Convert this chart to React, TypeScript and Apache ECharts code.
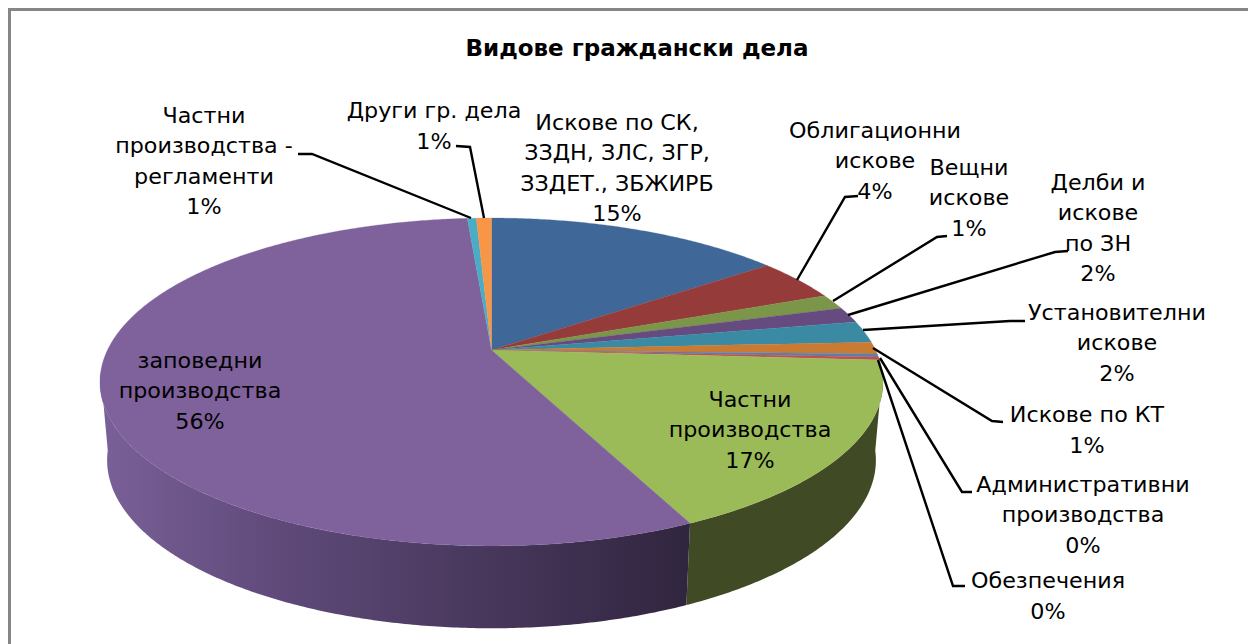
import React, { useEffect, useRef } from "react";
import * as echarts from "echarts";

const titleText = "Видове граждански дела";
const categories = [
  "Искове по СК,\nЗЗДН, ЗЛС, ЗГР,\nЗЗДЕТ., ЗБЖИРБ",
  "Облигационни\nискове",
  "Вещни\nискове",
  "Делби и\nискове\nпо ЗН",
  "Установителни\nискове",
  "Искове по КТ",
  "Административни\nпроизводства",
  "Обезпечения",
  "Частни\nпроизводства",
  "заповедни\nпроизводства",
  "Частни\nпроизводства -\nрегламенти",
  "Други гр. дела",
];
const percentLabels = ["15%", "4%", "1%", "2%", "2%", "1%", "0%", "0%", "17%", "56%", "1%", "1%"];
const values = [14.8, 4.2, 1.5, 1.55, 2.15, 1.2, 0.3, 0.3, 17, 55.8, 0.45, 0.75];
const topColors = ["#3f6797", "#953c3a", "#7b9549", "#664b80", "#3a8aa3", "#c97a33", "#5a7fb0", "#c0504d", "#9bbb59", "#7f619c", "#4bacc6", "#f79646"];
const wallColors = ["#26405e", "#5c2523", "#4c5c2d", "#3f2f50", "#245565", "#7c4b20", "#38506e", "#772f30", "#404a24", "#4a3a60", "#2e6a7a", "#985c2b"];

const labelAnchors = [
  [617, 168], [875, 161], [969, 198], [1098, 228], [1117, 343], [1087, 430], [1083, 515], [1048, 596], [750, 430], [200, 391], [204, 161], [434, 126],
];
const leaders = [
  null,
  [[858, 196], [845, 197], [797, 280]],
  [[947, 236], [937, 237], [833, 301]],
  [[1068, 251], [1055, 252], [848, 315]],
  [[1025, 321], [1010, 321], [863, 330]],
  [[1003, 422], [992, 421], [873, 348]],
  [[972, 492], [962, 492], [880, 358]],
  [[965, 586], [953, 586], [878, 360]],
  null,
  null,
  [[298, 154], [312, 154], [471, 218]],
  [[456, 146], [470, 147], [484, 218]],
];

// Perspective projection of the pie's top and bottom faces
const K = 0.195;
const TOP = { cx: 491.5, cy: 350, a: 384, b: 157.7 };
const BOTTOM = { cx: 491.5, cy: 427.5, a: 377, b: 161.6 };
const WALL_FROM = 98;
const WALL_TO = 262;

function project(face: typeof TOP, deg: number) {
  const t = (deg * Math.PI) / 180;
  const u = Math.sin(t);
  const v = -Math.cos(t);
  const d = 1 - K * v;
  return [face.cx + (face.a * u) / d, face.cy + (face.b * v) / d];
}
function arc(face: typeof TOP, from: number, to: number) {
  const n = Math.max(2, Math.ceil(Math.abs(to - from) * 2));
  const pts: number[][] = [];
  for (let i = 0; i <= n; i++) pts.push(project(face, from + ((to - from) * i) / n));
  return pts;
}

const total = values.reduce((a, b) => a + b, 0);
const starts = values.map((_, i) => (values.slice(0, i).reduce((a, b) => a + b, 0) / total) * 360);

export default function App() {
  const ref = useRef<HTMLDivElement>(null);
  useEffect(() => {
    const chart = echarts.init(ref.current!, null, { renderer: "svg" });
    const seriesData = values.map((v, i) => ({ name: categories[i], value: v }));
    const purpleWall = {
      type: "linear", x: 100, y: 0, x2: 690, y2: 0, global: true,
      colorStops: [
        { offset: 0, color: "#7a6098" },
        { offset: 0.3, color: "#5f4a7a" },
        { offset: 0.7, color: "#453558" },
        { offset: 1, color: "#30253f" },
      ],
    };
    const graphics: any[] = [
      { type: "polyline", z: 100, silent: true, shape: { points: [[9.5, 644], [9.5, 9.5], [1248, 9.5]] }, style: { stroke: "#868686", lineWidth: 3, fill: "none" } },
    ];
    leaders.forEach((pts) => {
      if (pts) graphics.push({ type: "polyline", z: 100, silent: true, shape: { points: pts }, style: { stroke: "#000", lineWidth: 2.4, fill: "none" } });
    });
    categories.forEach((c, i) => {
      graphics.push({
        type: "text", z: 101, silent: true, x: labelAnchors[i][0], y: labelAnchors[i][1], scaleX: 1.06,
        style: {
          text: c + "\n" + percentLabels[i],
          fill: "#000", font: '21px "DejaVu Sans"', lineHeight: 30.5,
          textAlign: "center", textVerticalAlign: "middle",
        },
      });
    });
    chart.setOption({
      animation: false,
      backgroundColor: "#fff",
      title: {
        text: titleText, left: 632, top: 31, textAlign: "center",
        textStyle: { fontFamily: "DejaVu Sans", fontWeight: "bold", fontSize: 23, color: "#000" },
      },
      series: [
        {
          type: "custom", coordinateSystem: "none", z: 2, silent: true, data: seriesData,
          renderItem: (params: any, api: any) => {
            const i = params.dataIndex;
            const from = Math.max(starts[i], WALL_FROM);
            const to = Math.min(starts[i] + (api.value(0) / total) * 360, WALL_TO);
            if (to <= from) return { type: "group", children: [] };
            const points = [...arc(TOP, from, to), ...arc(BOTTOM, to, from)];
            return { type: "polygon", shape: { points }, style: { fill: i === 9 ? purpleWall : wallColors[i], stroke: "none" } };
          },
        },
        {
          type: "custom", coordinateSystem: "none", z: 3, silent: true, data: seriesData,
          renderItem: (params: any, api: any) => {
            const i = params.dataIndex;
            const points = [[TOP.cx, TOP.cy], ...arc(TOP, starts[i], starts[i] + (api.value(0) / total) * 360)];
            return { type: "polygon", shape: { points }, style: { fill: topColors[i], stroke: topColors[i], lineWidth: 0.3 } };
          },
        },
      ],
      graphic: { elements: graphics },
    } as any);
    return () => chart.dispose();
  }, []);
  return <div ref={ref} style={{ position: "fixed", left: 0, top: 0, width: 1248, height: 644 }} />;
}
